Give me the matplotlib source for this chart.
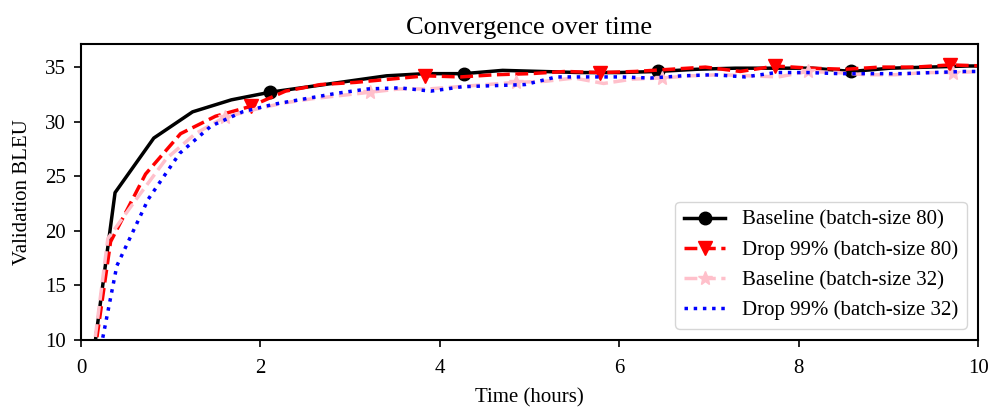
import matplotlib
matplotlib.use('Agg')
import matplotlib.pyplot as plt

plt.rcParams['font.family'] = ['Liberation Serif', 'DejaVu Serif']
plt.rcParams['mathtext.fontset'] = 'stix'

# Baseline (batch-size 80)
t_base80 = [0, 0.38, 0.812, 1.244, 1.676, 2.108, 2.54, 2.972, 3.404, 3.836, 4.268, 4.70,
            5.132, 5.564, 5.996, 6.428, 6.86, 7.292, 7.724, 8.156, 8.588, 9.02, 9.452, 9.884, 10.316]
bleu_base80 = [0, 23.5, 28.5, 30.9, 32.0, 32.7, 33.2, 33.7, 34.2, 34.4, 34.4, 34.7,
               34.6, 34.5, 34.5, 34.6, 34.8, 34.9, 34.9, 34.9, 34.6, 34.9, 35.0, 35.1, 35.1]

# Drop 99% (batch-size 80)
t_drop80 = [0, 0.33, 0.72, 1.11, 1.50, 1.89, 2.28, 2.67, 3.06, 3.45, 3.84, 4.23, 4.62, 5.01,
            5.40, 5.79, 6.18, 6.57, 6.96, 7.35, 7.74, 8.13, 8.52, 8.91, 9.30, 9.69, 10.08]
bleu_drop80 = [0, 19.0, 25.2, 28.9, 30.5, 31.4, 32.8, 33.4, 33.6, 33.9, 34.2, 34.1, 34.3, 34.4,
               34.6, 34.5, 34.6, 34.8, 35.0, 34.6, 35.1, 34.9, 34.8, 35.0, 35.0, 35.2, 35.1]

# Baseline (batch-size 32)
t_base32 = [0, 0.30, 0.625, 0.95, 1.275, 1.60, 1.925, 2.25, 2.575, 2.90, 3.225, 3.55, 3.875,
            4.20, 4.525, 4.85, 5.175, 5.50, 5.825, 6.15, 6.475, 6.80, 7.125, 7.45, 7.775,
            8.10, 8.425, 8.75, 9.075, 9.40, 9.725, 10.05]
bleu_base32 = [0, 19.3, 23.0, 26.6, 28.9, 30.4, 31.1, 31.7, 32.1, 32.4, 32.7, 33.0, 33.0,
               33.2, 33.4, 33.6, 33.7, 34.0, 33.5, 33.9, 34.0, 34.2, 34.3, 34.2, 34.1,
               34.6, 34.5, 34.3, 34.3, 34.5, 34.5, 34.6]

# Drop 99% (batch-size 32)
t_drop32 = [0, 0.40, 0.75, 1.10, 1.45, 1.80, 2.15, 2.50, 2.85, 3.20, 3.55, 3.90, 4.25, 4.60,
            4.95, 5.30, 5.65, 6.00, 6.35, 6.70, 7.05, 7.40, 7.75, 8.10, 8.45, 8.80, 9.15,
            9.50, 9.85, 10.2]
bleu_drop32 = [0, 16.8, 22.9, 27.1, 29.6, 30.9, 31.6, 32.1, 32.6, 33.0, 33.1, 32.8, 33.2, 33.3,
               33.4, 34.1, 34.1, 34.1, 34.0, 34.2, 34.3, 34.1, 34.5, 34.5, 34.4, 34.4, 34.4,
               34.5, 34.6, 34.6]

fig = plt.figure(figsize=(9.91, 4.09), dpi=100)
ax = fig.add_axes([0.0817, 0.1687, 0.9053, 0.7233])

ax.plot(t_base80, bleu_base80, color='black', linestyle='-', linewidth=2.5,
        marker='o', markersize=9, markevery=5, label='Baseline (batch-size 80)')
ax.plot(t_drop80, bleu_drop80, color='red', linestyle='--', linewidth=2.5,
        marker='v', markersize=10, markevery=5, label='Drop 99% (batch-size 80)')
ax.plot(t_base32, bleu_base32, color='pink', linestyle='--', linewidth=2.5,
        marker='*', markersize=10, markevery=5, label='Baseline (batch-size 32)')
ax.plot(t_drop32, bleu_drop32, color='blue', linestyle=':', linewidth=2.5,
        label='Drop 99% (batch-size 32)')

ax.set_xlim(0, 10)
ax.set_ylim(10, 37.1)
ax.set_yticks([10, 15, 20, 25, 30, 35])
ax.set_xticks([0, 2, 4, 6, 8, 10])
ax.tick_params(labelsize=15, length=5, width=1.2)
ax.tick_params(axis='x', pad=9)
ax.tick_params(axis='y', pad=6)
for s in ax.spines.values():
    s.set_linewidth(1.5)

ax.set_xlabel('Time (hours)', fontsize=15, labelpad=7)
ax.set_ylabel('Validation BLEU', fontsize=15, labelpad=9)
ax.set_title('Convergence over time', fontsize=19, pad=7)
ax.legend(loc='lower right', fontsize=15, borderaxespad=0.55)

fig.savefig('out.png', dpi=100)
